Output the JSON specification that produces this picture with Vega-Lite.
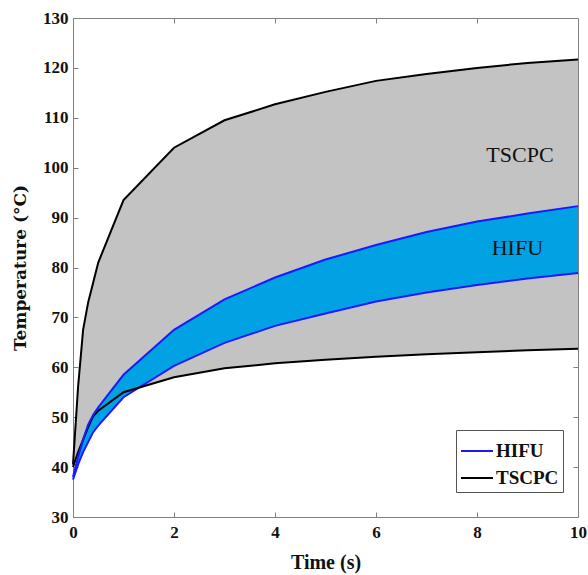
{
  "$schema": "https://vega.github.io/schema/vega-lite/v6.json",
  "autosize": "none",
  "width": 505,
  "height": 499,
  "padding": {"left": 73, "top": 18, "right": 10, "bottom": 58},
  "background": "white",
  "config": {
    "view": {"stroke": "#808080", "strokeWidth": 1},
    "axis": {"grid": false, "domainColor": "#808080", "tickColor": "#808080", "labelFont": "Liberation Serif", "labelFontWeight": "bold", "labelFontSize": 17, "labelColor": "#111", "titleFont": "Liberation Serif", "titleFontWeight": "bold", "titleColor": "#111"}
  },
  "datasets": {
    "bands": [
      {"t": 0, "s": "HIFU", "lo": 37.5, "hi": 38},
      {"t": 0.1, "s": "HIFU", "lo": 40.5, "hi": 42},
      {"t": 0.2, "s": "HIFU", "lo": 43, "hi": 45.5},
      {"t": 0.3, "s": "HIFU", "lo": 45, "hi": 48.5},
      {"t": 0.4, "s": "HIFU", "lo": 47, "hi": 50.5},
      {"t": 0.5, "s": "HIFU", "lo": 48.3, "hi": 52},
      {"t": 1, "s": "HIFU", "lo": 54, "hi": 58.5},
      {"t": 2, "s": "HIFU", "lo": 60.3, "hi": 67.5},
      {"t": 3, "s": "HIFU", "lo": 64.9, "hi": 73.6},
      {"t": 4, "s": "HIFU", "lo": 68.3, "hi": 78},
      {"t": 5, "s": "HIFU", "lo": 70.8, "hi": 81.6},
      {"t": 6, "s": "HIFU", "lo": 73.2, "hi": 84.5},
      {"t": 7, "s": "HIFU", "lo": 75, "hi": 87.1},
      {"t": 8, "s": "HIFU", "lo": 76.5, "hi": 89.2},
      {"t": 9, "s": "HIFU", "lo": 77.8, "hi": 90.8},
      {"t": 10, "s": "HIFU", "lo": 78.9, "hi": 92.3},
      {"t": 0, "s": "TSCPC", "lo": 40, "hi": 40.5},
      {"t": 0.1, "s": "TSCPC", "lo": 43, "hi": 56},
      {"t": 0.2, "s": "TSCPC", "lo": 45.5, "hi": 67.5},
      {"t": 0.3, "s": "TSCPC", "lo": 48, "hi": 73},
      {"t": 0.4, "s": "TSCPC", "lo": 50.2, "hi": 77},
      {"t": 0.5, "s": "TSCPC", "lo": 51.3, "hi": 81},
      {"t": 1, "s": "TSCPC", "lo": 55, "hi": 93.5},
      {"t": 2, "s": "TSCPC", "lo": 58, "hi": 104},
      {"t": 3, "s": "TSCPC", "lo": 59.8, "hi": 109.5},
      {"t": 4, "s": "TSCPC", "lo": 60.8, "hi": 112.7},
      {"t": 5, "s": "TSCPC", "lo": 61.5, "hi": 115.2},
      {"t": 6, "s": "TSCPC", "lo": 62.1, "hi": 117.4},
      {"t": 7, "s": "TSCPC", "lo": 62.6, "hi": 118.8},
      {"t": 8, "s": "TSCPC", "lo": 63, "hi": 120},
      {"t": 9, "s": "TSCPC", "lo": 63.4, "hi": 121},
      {"t": 10, "s": "TSCPC", "lo": 63.7, "hi": 121.7}
    ],
    "labels": [
      {"t": 8.85, "temp": 102.5, "label": "TSCPC"},
      {"t": 8.8, "temp": 84, "label": "HIFU"}
    ]
  },
  "layer": [
    {
      "data": {"name": "bands"},
      "transform": [{"filter": "datum.s === 'TSCPC'"}],
      "mark": {"type": "area", "color": "#c3c3c3", "opacity": 1},
      "encoding": {
        "x": {"field": "t", "type": "quantitative", "scale": {"domain": [0, 10], "nice": false},
              "axis": {"title": "Time (s)", "titleFontSize": 20, "titleFontWeight": 600, "values": [0, 2, 4, 6, 8, 10], "tickSize": -5, "labelPadding": 12, "titlePadding": 12, "labelFlush": false}},
        "y": {"field": "lo", "type": "quantitative", "scale": {"domain": [30, 130], "nice": false},
              "axis": {"title": "Temperature (°C)", "titleFont": "DejaVu Serif", "titleFontSize": 17, "values": [30, 40, 50, 60, 70, 80, 90, 100, 110, 120, 130], "tickSize": -5, "labelPadding": 10, "titlePadding": 13, "labelFlush": false}},
        "y2": {"field": "hi"}
      }
    },
    {
      "data": {"name": "bands"},
      "transform": [{"filter": "datum.s === 'HIFU'"}],
      "mark": {"type": "area", "color": "#00a2e4", "opacity": 1},
      "encoding": {
        "x": {"field": "t", "type": "quantitative", "axis": null},
        "y": {"field": "lo", "type": "quantitative", "axis": null},
        "y2": {"field": "hi"}
      }
    },
    {
      "data": {"name": "bands"},
      "mark": {"type": "line", "strokeWidth": 2},
      "encoding": {
        "x": {"field": "t", "type": "quantitative", "axis": null},
        "y": {"field": "lo", "type": "quantitative", "axis": null},
        "color": {"field": "s", "type": "nominal", "scale": {"domain": ["HIFU", "TSCPC"], "range": ["#1a1aff", "#000000"]},
          "legend": {"title": null, "orient": "none", "legendX": 383, "legendY": 412, "symbolType": "stroke", "symbolSize": 1024, "symbolStrokeWidth": 2, "labelFont": "Liberation Serif", "labelFontWeight": "bold", "labelFontSize": 19, "labelColor": "#111", "labelOffset": 2, "strokeColor": "#555", "fillColor": "white", "padding": 4, "rowPadding": 0}}
      }
    },
    {
      "data": {"name": "bands"},
      "mark": {"type": "line", "strokeWidth": 2},
      "encoding": {
        "x": {"field": "t", "type": "quantitative", "axis": null},
        "y": {"field": "hi", "type": "quantitative", "axis": null},
        "color": {"field": "s", "type": "nominal", "scale": {"domain": ["HIFU", "TSCPC"], "range": ["#1a1aff", "#000000"]},
          "legend": {"title": null, "orient": "none", "legendX": 383, "legendY": 412, "symbolType": "stroke", "symbolSize": 1024, "symbolStrokeWidth": 2, "labelFont": "Liberation Serif", "labelFontWeight": "bold", "labelFontSize": 19, "labelColor": "#111", "labelOffset": 2, "strokeColor": "#555", "fillColor": "white", "padding": 4, "rowPadding": 0}}
      }
    },
    {
      "data": {"name": "labels"},
      "mark": {"type": "text", "font": "Liberation Serif", "fontSize": 22, "color": "#111"},
      "encoding": {
        "x": {"field": "t", "type": "quantitative", "axis": null},
        "y": {"field": "temp", "type": "quantitative", "axis": null},
        "text": {"field": "label"}
      }
    },
    {
      "data": {"name": "labels"},
      "mark": {"type": "point", "opacity": 0},
      "encoding": {
        "x": {"field": "t", "type": "quantitative", "axis": {"orient": "top", "title": null, "labels": false, "values": [2, 4, 6, 8], "tickSize": -5, "domain": false}},
        "y": {"field": "temp", "type": "quantitative", "axis": {"orient": "right", "title": null, "labels": false, "values": [40, 50, 60, 70, 80, 90, 100, 110, 120], "tickSize": -5, "domain": false}}
      }
    }
  ],
  "resolve": {"axis": {"x": "independent", "y": "independent"}}
}
